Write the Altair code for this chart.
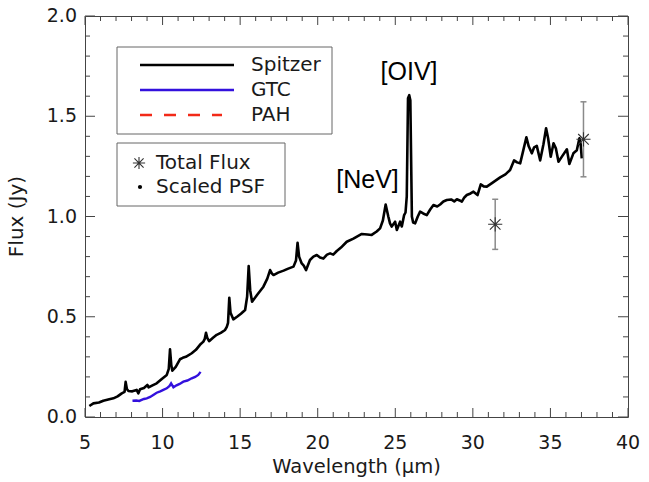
import altair as alt
import pandas as pd

# ---- spectra -------------------------------------------------------------
spitzer_wl = [
    5.28, 5.54, 5.9, 6.18, 6.5, 6.83, 7.1, 7.37, 7.55, 7.62, 7.7, 7.8, 8.05, 8.33,
    8.44, 8.55, 8.8, 9.02, 9.1, 9.35, 9.62, 9.95, 10.27, 10.4, 10.48, 10.56, 10.63,
    10.85, 11.12, 11.3, 11.5, 11.88, 12.15, 12.41, 12.63, 12.72, 12.8, 12.88, 13.0,
    13.25, 13.49, 13.75, 14.03, 14.14, 14.22, 14.3, 14.38, 14.56, 14.8, 15.05,
    15.32, 15.45, 15.55, 15.65, 15.77, 16.1, 16.5, 16.75, 16.93, 17.05, 17.15,
    17.45, 17.8, 18.1, 18.44, 18.6, 18.7, 18.8, 18.97, 19.1, 19.25, 19.5, 19.72,
    19.94, 20.15, 20.36, 20.6, 20.8, 21.0, 21.23, 21.5, 21.87, 22.3, 22.84, 23.2,
    23.48, 23.8, 24.02, 24.2, 24.38, 24.55, 24.66, 24.77, 24.99, 25.1, 25.31,
    25.42, 25.57, 25.66, 25.74, 25.82, 25.9, 25.97, 26.07, 26.15, 26.28, 26.45,
    26.6, 26.8, 27.03, 27.25, 27.46, 27.7, 27.89, 28.1, 28.32, 28.6, 28.8, 28.97,
    29.15, 29.29, 29.45, 29.61, 29.85, 30.04, 30.3, 30.51, 30.7, 30.9, 31.3,
    31.76, 32.1, 32.4, 32.66, 32.85, 33.05, 33.25, 33.45, 33.6, 33.8, 33.95,
    34.12, 34.34, 34.55, 34.72, 34.85, 35.02, 35.2, 35.35, 35.52, 35.75, 36.06,
    36.22, 36.48, 36.7, 36.87, 36.95, 37.02,
]
spitzer_flux = [
    0.055, 0.068, 0.072, 0.081, 0.087, 0.093, 0.103, 0.118, 0.125, 0.175, 0.14,
    0.13, 0.128, 0.135, 0.118, 0.138, 0.145, 0.16, 0.148, 0.158, 0.168, 0.19,
    0.21, 0.24, 0.338, 0.26, 0.231, 0.25, 0.288, 0.295, 0.30, 0.318, 0.335, 0.36,
    0.376, 0.39, 0.42, 0.395, 0.378, 0.395, 0.41, 0.42, 0.434, 0.45, 0.47, 0.595,
    0.52, 0.487, 0.5, 0.515, 0.534, 0.6, 0.753, 0.63, 0.575, 0.61, 0.65, 0.69,
    0.733, 0.715, 0.708, 0.72, 0.73, 0.74, 0.75, 0.78, 0.869, 0.8, 0.766, 0.755,
    0.733, 0.783, 0.8, 0.808, 0.795, 0.79, 0.81, 0.816, 0.81, 0.828, 0.845,
    0.874, 0.89, 0.913, 0.91, 0.908, 0.925, 0.941, 0.98, 1.06, 1.0, 0.966, 0.95,
    0.974, 0.933, 0.974, 0.95, 1.007, 1.02, 1.1, 1.59, 1.605, 1.58, 1.0, 0.97,
    0.966, 1.0, 1.024, 1.015, 1.007, 1.035, 1.057, 1.05, 1.06, 1.075, 1.082,
    1.085, 1.075, 1.086, 1.08, 1.074, 1.095, 1.107, 1.115, 1.124, 1.107, 1.16,
    1.15, 1.149, 1.17, 1.195, 1.21, 1.232, 1.28, 1.27, 1.265, 1.33, 1.395, 1.35,
    1.315, 1.345, 1.352, 1.28, 1.36, 1.44, 1.39, 1.298, 1.365, 1.34, 1.273, 1.3,
    1.335, 1.262, 1.315, 1.33, 1.39, 1.36, 1.29,
]
gtc_wl = [
    8.06, 8.3, 8.5, 8.65, 8.8, 8.98, 9.2, 9.4, 9.62, 9.85, 10.05, 10.27, 10.45,
    10.55, 10.7, 10.9, 11.1, 11.34, 11.6, 11.88, 12.1, 12.3, 12.45,
]
gtc_flux = [
    0.081, 0.082, 0.08, 0.085, 0.09, 0.093, 0.1, 0.11, 0.121, 0.128, 0.135,
    0.143, 0.155, 0.168, 0.148, 0.158, 0.165, 0.176, 0.182, 0.193, 0.2, 0.21,
    0.225,
]

# ---- photometry (total flux with errors) --------------------------------
phot_wl = [31.44, 37.13]
phot_flux = [0.961, 1.385]
phot_err = [0.125, 0.187]

# ---- axis ticks and labels -------------------------------------------------
x_major = [5, 10, 15, 20, 25, 30, 35, 40]
x_minor = [w for w in range(5, 41) if w % 5 != 0]
y_major = [0.0, 0.5, 1.0, 1.5, 2.0]
y_minor = [round(0.1 * i, 1) for i in range(21) if i % 5 != 0]
x_tick_labels = ["5", "10", "15", "20", "25", "30", "35", "40"]
y_tick_labels = ["0.0", "0.5", "1.0", "1.5", "2.0"]
x_title = "Wavelength (μm)"
y_title = "Flux (Jy)"

# ---- legend / annotation text ---------------------------------------------
line_labels = ["Spitzer", "GTC", "PAH"]
line_colors = ["#000000", "#3311dd", "#f22a18"]
point_labels = ["Total Flux", "Scaled PSF"]
line_names = ["[NeV]", "[OIV]"]
line_name_wl = [23.21, 25.89]
line_name_flux = [1.142, 1.681]

W, H = 543, 401
FONT = "DejaVu Sans"
TXT = "#1a1a1a"

xs = alt.Scale(domain=[5, 40], nice=False, zero=False)
ys = alt.Scale(domain=[0, 2], nice=False, zero=False)
X = lambda f: alt.X(f, scale=xs, axis=None)
Y = lambda f: alt.Y(f, scale=ys, axis=None)

spitzer = pd.DataFrame({"x": spitzer_wl, "y": spitzer_flux})
gtc = pd.DataFrame({"x": gtc_wl, "y": gtc_flux})
phot = pd.DataFrame({"x": phot_wl, "y": phot_flux, "e": phot_err})
phot["lo"] = phot["y"] - phot["e"]
phot["hi"] = phot["y"] + phot["e"]

spitzer_line = alt.Chart(spitzer).mark_line(
    color="black", strokeWidth=2.6, strokeJoin="round"
).encode(x=X("x:Q"), y=Y("y:Q"), order="x:Q")

gtc_line = alt.Chart(gtc).mark_line(color=line_colors[1], strokeWidth=2.4).encode(
    x=X("x:Q"), y=Y("y:Q"), order="x:Q"
)

# error bars with end caps, and asterisk markers
GREY = "#8a8a8a"
err_bars = alt.Chart(phot).mark_rule(color=GREY, strokeWidth=1.5).encode(
    x=X("x:Q"), y=Y("lo:Q"), y2="hi:Q"
)
cap_shape = "M-1,0L1,0"
caps_lo = alt.Chart(phot).mark_point(
    shape=cap_shape, size=36, filled=False, color=GREY, strokeWidth=1.5, opacity=1
).encode(x=X("x:Q"), y=Y("lo:Q"))
caps_hi = alt.Chart(phot).mark_point(
    shape=cap_shape, size=36, filled=False, color=GREY, strokeWidth=1.5, opacity=1
).encode(x=X("x:Q"), y=Y("hi:Q"))

star_shape = "M0,-1L0,1M-1,0L1,0M-0.75,-0.75L0.75,0.75M-0.75,0.75L0.75,-0.75"
stars = alt.Chart(phot).mark_point(
    shape=star_shape, size=200, filled=False, color="#333333", strokeWidth=1.1, opacity=1
).encode(x=X("x:Q"), y=Y("y:Q"))

# emission-line labels
ann = pd.DataFrame({"x": line_name_wl, "y": line_name_flux, "t": line_names})
ann_text = alt.Chart(ann).mark_text(
    font="Liberation Sans", fontSize=25, color="black", baseline="alphabetic", align="center"
).encode(x=X("x:Q"), y=Y("y:Q"), text="t:N")

# inward tick marks on all four sides of the frame
TICK_C = "#444444"


def xticks(vals, length):
    d = pd.DataFrame({"x": vals})
    bottom = alt.Chart(d).mark_rule(color=TICK_C, strokeWidth=1).encode(
        x=X("x:Q"), y=alt.value(H), y2=alt.value(H - length)
    )
    top = alt.Chart(d).mark_rule(color=TICK_C, strokeWidth=1).encode(
        x=X("x:Q"), y=alt.value(0), y2=alt.value(length)
    )
    return [bottom, top]


def yticks(vals, length):
    d = pd.DataFrame({"y": vals})
    left = alt.Chart(d).mark_rule(color=TICK_C, strokeWidth=1).encode(
        y=Y("y:Q"), x=alt.value(0), x2=alt.value(length)
    )
    right = alt.Chart(d).mark_rule(color=TICK_C, strokeWidth=1).encode(
        y=Y("y:Q"), x=alt.value(W), x2=alt.value(W - length)
    )
    return [left, right]


tick_layers = xticks(x_major, 9) + xticks(x_minor, 5) + yticks(y_major, 10) + yticks(y_minor, 5)

# tick labels and axis titles
xl = pd.DataFrame({"x": x_major, "t": x_tick_labels})
yl = pd.DataFrame({"y": y_major, "t": y_tick_labels})
x_labels = alt.Chart(xl).mark_text(
    font=FONT, fontSize=19, color=TXT, align="center", baseline="top"
).encode(x=X("x:Q"), y=alt.value(H + 17), text="t:N")
y_labels = alt.Chart(yl).mark_text(
    font=FONT, fontSize=19, color=TXT, align="right", baseline="middle"
).encode(y=Y("y:Q"), x=alt.value(-8), text="t:N")

one = pd.DataFrame({"k": [0]})
x_title_mark = alt.Chart(one).mark_text(
    text=x_title, font=FONT, fontSize=19.5, color=TXT, align="center", baseline="alphabetic"
).encode(x=alt.value(W / 2), y=alt.value(H + 56))
y_title_mark = alt.Chart(one).mark_text(
    text=y_title, font=FONT, fontSize=20, color=TXT, align="center", baseline="alphabetic",
    angle=270,
).encode(x=alt.value(-62), y=alt.value(H / 2))

# legend boxes
BOX_C = "#666666"


def box(x0, x1, y0, y1):
    return alt.Chart(one).mark_rect(fill=None, stroke=BOX_C, strokeWidth=1).encode(
        x=alt.value(x0), x2=alt.value(x1), y=alt.value(y0), y2=alt.value(y1)
    )


def label(txt, x, y):
    return alt.Chart(one).mark_text(
        text=txt, font=FONT, fontSize=20, color=TXT, align="left", baseline="middle"
    ).encode(x=alt.value(x), y=alt.value(y))


legend_layers = [box(32, 247, 31, 118), box(32, 200, 127, 190)]
row_y = [49, 74, 99]
for lab, col, yy in zip(line_labels, line_colors, row_y):
    dash = [12, 12] if lab == "PAH" else [1, 0]
    x_end = 137 if lab == "PAH" else 149
    legend_layers.append(
        alt.Chart(one).mark_rule(color=col, strokeWidth=2.4, strokeDash=dash).encode(
            x=alt.value(55), x2=alt.value(x_end), y=alt.value(yy)
        )
    )
    legend_layers.append(label(lab, 166, yy))

legend_layers.append(
    alt.Chart(one).mark_point(
        shape=star_shape, size=150, filled=False, color="#333333", strokeWidth=1.1, opacity=1
    ).encode(x=alt.value(54), y=alt.value(147))
)
legend_layers.append(label(point_labels[0], 71, 147))
legend_layers.append(
    alt.Chart(one).mark_point(shape="circle", size=18, filled=True, color="black", opacity=1).encode(
        x=alt.value(55), y=alt.value(171)
    )
)
legend_layers.append(label(point_labels[1], 71, 171))

chart = alt.layer(
    spitzer_line, gtc_line, err_bars, caps_lo, caps_hi, stars, ann_text,
    *tick_layers, x_labels, y_labels, x_title_mark, y_title_mark, *legend_layers,
).properties(
    width=W, height=H,
    autosize=alt.AutoSizeParams(type="none"),
    padding={"left": 85, "top": 16, "right": 21, "bottom": 65},
    background="white",
).configure_view(stroke="#444444", strokeWidth=1)

chart.save("out.html", embed_options={"renderer": "svg", "actions": False})
